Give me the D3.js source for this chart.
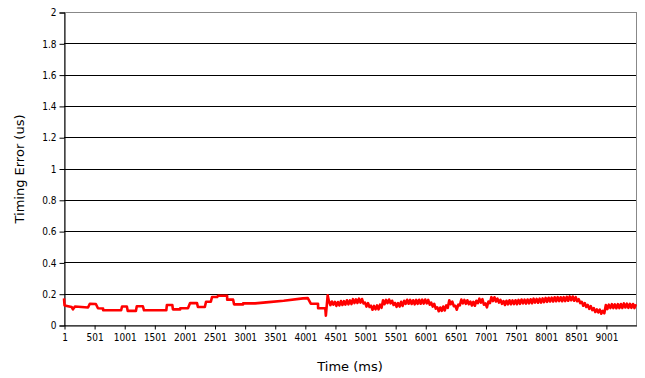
<!DOCTYPE html>
<html>
<head>
<meta charset="utf-8">
<script src="https://cdn.jsdelivr.net/npm/d3@7"></script>
<style>
  body { margin: 0; background: #fff; }
  svg text { font-family: "DejaVu Sans Condensed", "DejaVu Sans", sans-serif; fill: #000; }
</style>
</head>
<body>
<div id="chart"></div>
<script>
// time (ms) and timing error (us)
// first part: slow steps
const stepTimes = [
  1, 10, 128, 150, 183, 400, 430, 530, 565, 650, 651, 950, 965, 1045, 1060, 1195,
  1210, 1310, 1330, 1700, 1710, 1800, 1810, 1930, 1931, 2060, 2095, 2210, 2225, 2340,
  2360, 2440, 2460, 2545, 2560, 2710, 2711, 2810, 2825, 2975, 2976, 3175, 3400, 3650,
  3970, 4050, 4100, 4220, 4221, 4340, 4350, 4380
]
const stepErrors = [
  0.17, 0.125, 0.115, 0.10, 0.118, 0.112, 0.136, 0.134, 0.107, 0.105, 0.094, 0.094, 0.118, 0.118, 0.09, 0.09,
  0.12, 0.12, 0.094, 0.094, 0.128, 0.128, 0.10, 0.10, 0.107, 0.107, 0.14, 0.14, 0.115, 0.115,
  0.149, 0.149, 0.179, 0.179, 0.187, 0.187, 0.162, 0.162, 0.132, 0.132, 0.138, 0.138, 0.146, 0.155,
  0.17, 0.172, 0.136, 0.136, 0.107, 0.107, 0.06, 0.19
]
// second part: jittery samples
const noisyTimes = [
  4400, 4425, 4450, 4475, 4500, 4525, 4550, 4575, 4600, 4625, 4650, 4675, 4700, 4725, 4750, 4775,
  4800, 4825, 4850, 4875, 4900, 4925, 4950, 4975, 5000, 5025, 5050, 5075, 5100, 5125, 5150, 5175,
  5200, 5225, 5250, 5275, 5300, 5325, 5350, 5375, 5400, 5425, 5450, 5475, 5500, 5525, 5550, 5575,
  5600, 5625, 5650, 5675, 5700, 5725, 5750, 5775, 5800, 5825, 5850, 5875, 5900, 5925, 5950, 5975,
  6000, 6025, 6050, 6075, 6100, 6125, 6150, 6175, 6200, 6225, 6250, 6275, 6300, 6325, 6350, 6375,
  6400, 6425, 6450, 6475, 6500, 6525, 6550, 6575, 6600, 6625, 6650, 6675, 6700, 6725, 6750, 6775,
  6800, 6825, 6850, 6875, 6900, 6925, 6950, 6975, 7000, 7025, 7050, 7075, 7100, 7125, 7150, 7175,
  7200, 7225, 7250, 7275, 7300, 7325, 7350, 7375, 7400, 7425, 7450, 7475, 7500, 7525, 7550, 7575,
  7600, 7625, 7650, 7675, 7700, 7725, 7750, 7775, 7800, 7825, 7850, 7875, 7900, 7925, 7950, 7975,
  8000, 8025, 8050, 8075, 8100, 8125, 8150, 8175, 8200, 8225, 8250, 8275, 8300, 8325, 8350, 8375,
  8400, 8425, 8450, 8475, 8500, 8525, 8550, 8575, 8600, 8625, 8650, 8675, 8700, 8725, 8750, 8775,
  8800, 8825, 8850, 8875, 8900, 8925, 8950, 8975, 9000, 9025, 9050, 9075, 9100, 9125, 9150, 9175,
  9200, 9225, 9250, 9275, 9300, 9325, 9350, 9375, 9400, 9425, 9450, 9475, 9500
]
const noisyErrors = [
  0.153, 0.127, 0.150, 0.130, 0.148, 0.122, 0.147, 0.125, 0.153, 0.128, 0.152, 0.130, 0.158, 0.132, 0.157, 0.134,
  0.165, 0.140, 0.164, 0.141, 0.168, 0.143, 0.166, 0.138, 0.143, 0.118, 0.140, 0.115, 0.123, 0.098, 0.122, 0.100,
  0.125, 0.100, 0.130, 0.110, 0.158, 0.133, 0.160, 0.140, 0.163, 0.138, 0.155, 0.128, 0.141, 0.116, 0.140, 0.118,
  0.148, 0.122, 0.155, 0.135, 0.161, 0.136, 0.160, 0.134, 0.158, 0.132, 0.160, 0.135, 0.161, 0.136, 0.162, 0.137,
  0.163, 0.138, 0.160, 0.130, 0.143, 0.118, 0.135, 0.105, 0.113, 0.088, 0.112, 0.090, 0.118, 0.093, 0.125, 0.110,
  0.158, 0.133, 0.150, 0.120, 0.123, 0.098, 0.130, 0.125, 0.163, 0.138, 0.160, 0.135, 0.158, 0.133, 0.150, 0.125,
  0.148, 0.123, 0.155, 0.140, 0.168, 0.143, 0.165, 0.130, 0.138, 0.113, 0.150, 0.140, 0.178, 0.153, 0.177, 0.150,
  0.168, 0.143, 0.160, 0.135, 0.153, 0.128, 0.155, 0.132, 0.158, 0.133, 0.157, 0.134, 0.158, 0.133, 0.160, 0.135,
  0.163, 0.138, 0.162, 0.137, 0.163, 0.138, 0.164, 0.139, 0.168, 0.143, 0.167, 0.142, 0.168, 0.143, 0.170, 0.146,
  0.173, 0.148, 0.174, 0.150, 0.175, 0.150, 0.177, 0.152, 0.178, 0.153, 0.177, 0.152, 0.178, 0.153, 0.180, 0.155,
  0.183, 0.158, 0.182, 0.155, 0.178, 0.152, 0.165, 0.140, 0.148, 0.123, 0.140, 0.115, 0.128, 0.103, 0.120, 0.095,
  0.108, 0.083, 0.100, 0.080, 0.098, 0.072, 0.090, 0.075, 0.128, 0.102, 0.130, 0.108, 0.133, 0.108, 0.132, 0.107,
  0.133, 0.108, 0.134, 0.109, 0.138, 0.112, 0.136, 0.110, 0.135, 0.110, 0.134, 0.108, 0.132
]
const xTicks = [1, 501, 1001, 1501, 2001, 2501, 3001, 3501, 4001, 4501, 5001, 5501, 6001, 6501, 7001, 7501, 8001, 8501, 9001]
const yTicks = [0, 0.2, 0.4, 0.6, 0.8, 1, 1.2, 1.4, 1.6, 1.8, 2]

const timeMs = stepTimes.concat(noisyTimes)
const errorUs = stepErrors.concat(noisyErrors)

const width = 645, height = 378
const margin = {top: 12, right: 9, bottom: 53, left: 64}

const svg = d3.select("#chart").append("svg")
    .attr("width", width)
    .attr("height", height)

const x = d3.scaleLinear()
    .domain([1, 9501])
    .range([margin.left, width - margin.right])
const y = d3.scaleLinear()
    .domain([0, 2])
    .range([height - margin.bottom, margin.top])

// plot frame (grey top/right)
svg.append("rect")
    .attr("x", margin.left + 0.5)
    .attr("y", margin.top + 0.5)
    .attr("width", width - margin.right - margin.left)
    .attr("height", height - margin.bottom - margin.top)
    .attr("fill", "none")
    .attr("stroke", "#888")

// gridlines
svg.append("g")
  .selectAll("line")
  .data(yTicks.filter(d => d > 0 && d < 2))
  .enter().append("line")
    .attr("x1", margin.left)
    .attr("x2", width - margin.right)
    .attr("y1", d => Math.round(y(d)) + 0.5)
    .attr("y2", d => Math.round(y(d)) + 0.5)
    .attr("stroke", "#000")

// y axis
const yAxis = svg.append("g")
    .attr("transform", "translate(" + (margin.left + 0.5) + ",0.5)")
    .call(d3.axisLeft(y).tickValues(yTicks).tickSize(5).tickPadding(3).tickFormat(d => d))
yAxis.select(".domain").attr("stroke", "#000")
yAxis.selectAll(".tick line").attr("stroke", "#000")
yAxis.selectAll("text").style("font-size", "10px")

// x axis
const xAxis = svg.append("g")
    .attr("transform", "translate(0.5," + (height - margin.bottom + 0.5) + ")")
    .call(d3.axisBottom(x).tickValues(xTicks).tickSize(4).tickSizeOuter(0).tickPadding(4).tickFormat(d => d))
xAxis.select(".domain").attr("stroke", "#000")
xAxis.selectAll(".tick line").attr("stroke", "#000")
xAxis.selectAll("text").style("font-size", "10px")

// the series
const line = d3.line()
    .x((d, i) => x(timeMs[i]))
    .y(d => y(d))

svg.append("path")
    .datum(errorUs)
    .attr("d", line)
    .attr("fill", "none")
    .attr("stroke", "#ff0000")
    .attr("stroke-width", 2.6)
    .attr("stroke-linejoin", "round")

// axis titles
svg.append("text")
    .attr("x", (margin.left + width - margin.right) / 2)
    .attr("y", 371)
    .attr("text-anchor", "middle")
    .style("font-family", "DejaVu Sans, sans-serif")
    .style("font-size", "13px")
    .text("Time (ms)")

svg.append("text")
    .attr("transform", "translate(24," + 169 + ") rotate(-90)")
    .attr("text-anchor", "middle")
    .style("font-family", "DejaVu Sans, sans-serif")
    .style("font-size", "13px")
    .text("Timing Error (us)")
</script>
</body>
</html>
